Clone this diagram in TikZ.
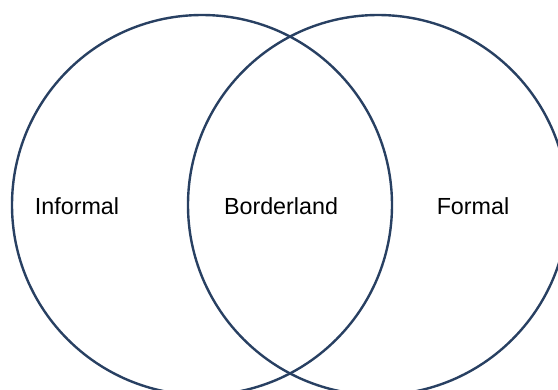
\documentclass[tikz,border=0pt]{standalone}
\usepackage{fontspec}
\setmainfont{Liberation Sans}
\definecolor{ringblue}{RGB}{40,64,98}
\begin{document}
\begin{tikzpicture}[x=1pt,y=-1pt,
  ring/.style={draw=ringblue,line width=2.4pt},
  label/.style={font=\fontsize{23.3}{28}\selectfont,text=black,inner sep=0pt}]
\useasboundingbox (0,0) rectangle (558,389);
\clip (0,0) rectangle (558,389);
% two overlapping sets
\draw[ring] (202,205) circle[radius=190];
\draw[ring] (378,205) circle[radius=190];
% region labels
\node[label] (informal) at (77,206) {Informal};
\node[label] (border) at (281,206) {Borderland};
\node[label] (formal) at (473,206) {Formal};
\end{tikzpicture}
\end{document}
